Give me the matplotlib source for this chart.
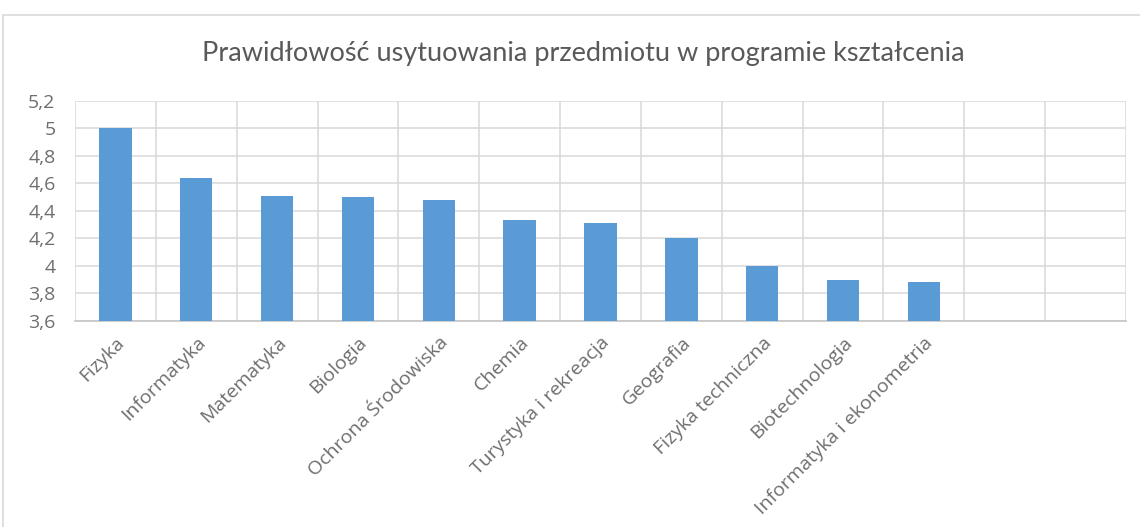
import matplotlib.pyplot as plt
from matplotlib.patches import Rectangle
from matplotlib.ticker import FuncFormatter, FixedLocator
import numpy as np

plt.rcParams['font.family'] = ['Open Sans', 'DejaVu Sans']

# data
subjects = ["Fizyka", "Informatyka", "Matematyka", "Biologia", "Ochrona Środowiska",
            "Chemia", "Turystyka i rekreacja", "Geografia", "Fizyka techniczna",
            "Biotechnologia", "Informatyka i ekonometria", "", ""]
scores = [5.0, 4.64, 4.51, 4.50, 4.48, 4.33, 4.31, 4.20, 4.00, 3.90, 3.88, np.nan, np.nan]
title = "Prawidłowość usytuowania przedmiotu w programie kształcenia"

bar_color = "#5B9BD5"
grid_color = "#D9D9D9"
text_color = "#595959"
tick_color = "#6E6E6E"

fig = plt.figure(figsize=(11.4, 5.27), dpi=100)
ax = fig.add_axes([75 / 1140, 1 - 321 / 527, 1051 / 1140, 220.3 / 527])

# outer chart border
fig.patches.append(Rectangle((3 / 1140, -0.1), 1.2, 1 - 15 / 527 + 0.1,
                             transform=fig.transFigure, fill=False,
                             edgecolor=grid_color, linewidth=1.2))

x = np.arange(len(subjects))
vals = [0 if np.isnan(v) else v - 3.6 for v in scores]
ax.bar(x, vals, bottom=3.6, width=0.4, color=bar_color, zorder=3)

ax.set_xlim(-0.5, len(subjects) - 0.5)
ax.set_ylim(3.6, 5.2)
ax.set_yticks(np.arange(3.6, 5.21, 0.2))
ax.yaxis.set_major_formatter(FuncFormatter(lambda v, p: f"{v:.1f}".rstrip("0").rstrip(".").replace(".", ",")))

ax.set_xticks(x)
ax.set_xticklabels(subjects, rotation=45, ha="right", rotation_mode="anchor")
ax.xaxis.set_minor_locator(FixedLocator(np.arange(-0.5, len(subjects), 1.0)))

ax.grid(axis="y", which="major", color=grid_color, linewidth=1.1, zorder=0)
ax.grid(axis="x", which="minor", color=grid_color, linewidth=1.1, zorder=0)
ax.tick_params(axis="both", which="both", length=0, colors=tick_color, labelsize=14)
ax.tick_params(axis="x", pad=9)
ax.tick_params(axis="y", pad=14)

for side in ["top", "right", "left"]:
    ax.spines[side].set_visible(False)
ax.spines["bottom"].set_color("#C8C8C8")
ax.spines["bottom"].set_linewidth(1.3)

fig.text(583 / 1140, 1 - 53 / 527, title, ha="center", va="center",
         fontsize=19.5, color=text_color, family=["Lato", "DejaVu Sans"])

fig.savefig("out.png", dpi=100)
